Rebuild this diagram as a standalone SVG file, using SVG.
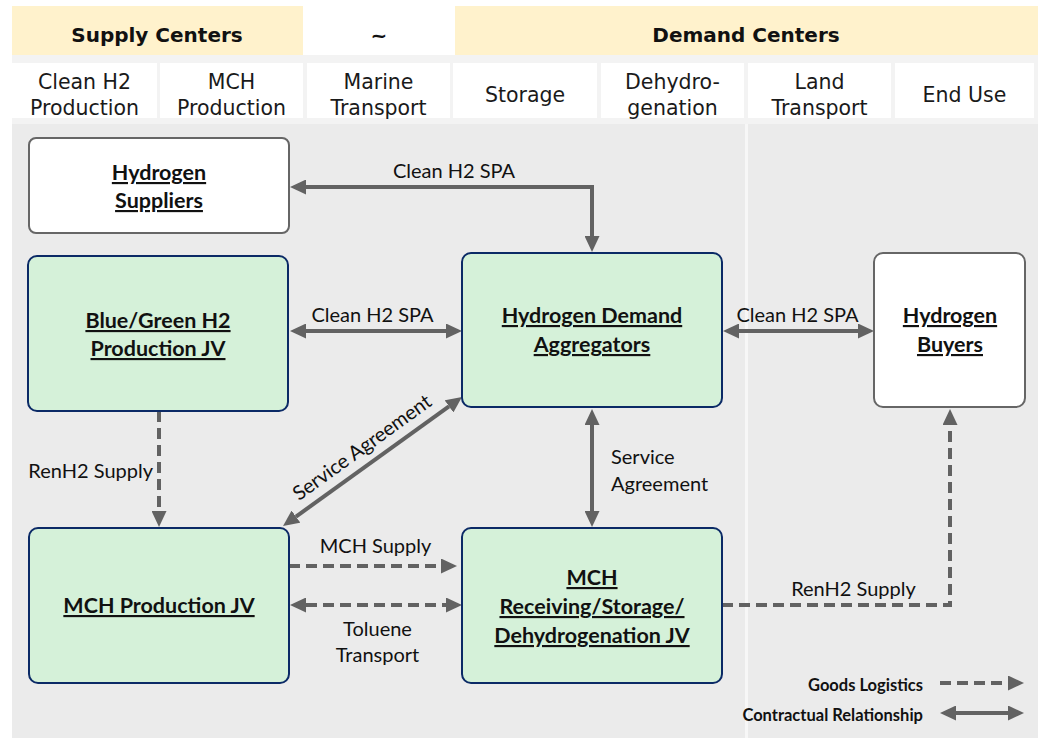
<svg xmlns="http://www.w3.org/2000/svg" width="1038" height="738" viewBox="0 0 1038 738">
<style>
.hdr{font-family:"DejaVu Sans",sans-serif;font-size:20px;font-weight:bold;fill:#111;text-anchor:middle}
.col{font-family:"DejaVu Sans",sans-serif;font-size:20.5px;fill:#1a1a1a;text-anchor:middle}
.lbl{font-family:Lato,"Liberation Sans",sans-serif;font-size:20px;fill:#111}
.mid{text-anchor:middle}
.nt{font-family:Lato,"Liberation Sans",sans-serif;font-size:21.5px;font-weight:bold;fill:#111;text-anchor:middle;text-decoration:underline}
.leg{font-family:Lato,"Liberation Sans",sans-serif;font-size:16.5px;font-weight:bold;fill:#111;text-anchor:end}
.green{fill:#d5f1d9;stroke:#0b2a66;stroke-width:2}
.white{fill:#ffffff;stroke:#666666;stroke-width:2}
.solid{fill:none;stroke:#626262;stroke-width:4}
.dash{fill:none;stroke:#626262;stroke-width:4;stroke-dasharray:11 6}
.cell{fill:#ffffff}
</style>
<defs>
<marker id="ah" viewBox="0 0 16 15" refX="0" refY="7.5" markerWidth="16" markerHeight="15" markerUnits="userSpaceOnUse" orient="auto-start-reverse">
<path d="M0,0 L16,7.5 L0,15 Z" fill="#626262"/>
</marker>
</defs>
<rect x="0" y="0" width="1038" height="738" fill="#ffffff"/>
<g id="header">
<rect x="12" y="6" width="291" height="49" fill="#fff2cc"/>
<rect x="455" y="6" width="583" height="49" fill="#fff2cc"/>
<text class="hdr" x="157" y="42">Supply Centers</text>
<text class="hdr" x="379" y="42">~</text>
<text class="hdr" x="746" y="42">Demand Centers</text>
<rect x="12" y="55" width="1026" height="69" fill="#f3f3f3"/>
<rect class="cell" x="12" y="63" width="145" height="55"/>
<rect class="cell" x="160" y="63" width="143" height="55"/>
<rect class="cell" x="307" y="63" width="143" height="55"/>
<rect class="cell" x="453" y="63" width="144" height="55"/>
<rect class="cell" x="601" y="63" width="143" height="55"/>
<rect class="cell" x="748" y="63" width="143" height="55"/>
<rect class="cell" x="895" y="63" width="139" height="55"/>
<text class="col" x="84.5" y="89">Clean H2</text>
<text class="col" x="84.5" y="115">Production</text>
<text class="col" x="231.5" y="89">MCH</text>
<text class="col" x="231.5" y="115">Production</text>
<text class="col" x="378.5" y="89">Marine</text>
<text class="col" x="378.5" y="115">Transport</text>
<text class="col" x="525" y="102">Storage</text>
<text class="col" x="672.5" y="89">Dehydro-</text>
<text class="col" x="672.5" y="115">genation</text>
<text class="col" x="819.5" y="89">Land</text>
<text class="col" x="819.5" y="115">Transport</text>
<text class="col" x="964.5" y="102">End Use</text>
</g>
<g id="panel">
<rect x="12" y="124" width="1026" height="614" fill="#ebebeb"/>
<rect x="745" y="124" width="3" height="614" fill="#f7f7f7"/>
</g>
<g id="connectors">
<path class="solid" d="M306,187 L592,187 L592,236" marker-start="url(#ah)" marker-end="url(#ah)"/>
<path class="solid" d="M306,331 L446,331" marker-start="url(#ah)" marker-end="url(#ah)"/>
<path class="solid" d="M739,331 L858,331" marker-start="url(#ah)" marker-end="url(#ah)"/>
<path class="solid" d="M296,516.6 L449,406.4" marker-start="url(#ah)" marker-end="url(#ah)"/>
<path class="solid" d="M592,425 L592,511" marker-start="url(#ah)" marker-end="url(#ah)"/>
<path class="dash" d="M159,411 L159,511" marker-end="url(#ah)"/>
<path class="dash" d="M289,566 L441,566" marker-end="url(#ah)"/>
<path class="dash" d="M306,605 L446,605" marker-start="url(#ah)" marker-end="url(#ah)"/>
<path class="dash" d="M722,605 L950,605 L950,425" marker-end="url(#ah)"/>
<text class="lbl mid" x="454" y="178">Clean H2 SPA</text>
<text class="lbl mid" x="372.5" y="322">Clean H2 SPA</text>
<text class="lbl mid" x="797.5" y="322">Clean H2 SPA</text>
<text class="lbl mid" transform="translate(366,453) rotate(-35.8)" x="0" y="0">Service Agreement</text>
<text class="lbl" x="611" y="464">Service</text>
<text class="lbl" x="611" y="491">Agreement</text>
<text class="lbl" x="153" y="478" text-anchor="end">RenH2 Supply</text>
<text class="lbl mid" x="375.5" y="553">MCH Supply</text>
<text class="lbl mid" x="377.5" y="636">Toluene</text>
<text class="lbl mid" x="377.5" y="662">Transport</text>
<text class="lbl mid" x="853.5" y="596">RenH2 Supply</text>
</g>
<g id="hydrogen-suppliers">
<rect class="white" x="29" y="138" width="260" height="95" rx="7"/>
<text class="nt" x="159" y="180">Hydrogen</text>
<text class="nt" x="159" y="208">Suppliers</text>
</g>
<g id="blue-green-jv">
<rect class="green" x="28" y="256" width="260" height="155" rx="9"/>
<text class="nt" x="158" y="328">Blue/Green H2</text>
<text class="nt" x="158" y="356">Production JV</text>
</g>
<g id="demand-aggregators">
<rect class="green" x="462" y="253" width="260" height="154" rx="9"/>
<text class="nt" x="592" y="323">Hydrogen Demand</text>
<text class="nt" x="592" y="352">Aggregators</text>
</g>
<g id="hydrogen-buyers">
<rect class="white" x="874" y="253" width="151" height="154" rx="9"/>
<text class="nt" x="950" y="323">Hydrogen</text>
<text class="nt" x="950" y="352">Buyers</text>
</g>
<g id="mch-production-jv">
<rect class="green" x="29" y="528" width="260" height="155" rx="9"/>
<text class="nt" x="159" y="613">MCH Production JV</text>
</g>
<g id="mch-receiving-jv">
<rect class="green" x="462" y="528" width="260" height="155" rx="9"/>
<text class="nt" x="592" y="585">MCH</text>
<text class="nt" x="592" y="614">Receiving/Storage/</text>
<text class="nt" x="592" y="643">Dehydrogenation JV</text>
</g>
<g id="legend">
<text class="leg" x="923" y="691">Goods Logistics</text>
<text class="leg" x="923" y="721">Contractual Relationship</text>
<path class="dash" d="M940,683 L1008,683" marker-end="url(#ah)"/>
<path class="solid" d="M956,713 L1008,713" marker-start="url(#ah)" marker-end="url(#ah)"/>
</g>
</svg>
